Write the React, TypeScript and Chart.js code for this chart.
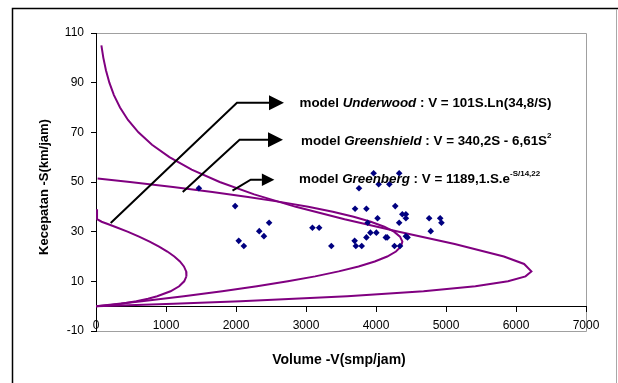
import { useEffect, useRef } from "react";
import { Chart, registerables } from "chart.js";

Chart.register(...registerables);

const FONT = "'Liberation Sans', Arial, sans-serif";

// Axis ticks
const xTicks = [0, 1000, 2000, 3000, 4000, 5000, 6000, 7000];
const yTicks = [-10, 10, 30, 50, 70, 90, 110];

// Field observations: volume (smp/jam) and speed (km/jam)
const observedVolume = [
  1470, 1988, 2039, 2112, 2332, 2399, 2473, 3092, 3188, 3362,
  3695, 3712, 3701, 3757, 3796, 3863, 3863, 3881, 3920, 3966,
  4005, 4022, 4038, 4140, 4160, 4191, 4264, 4275, 4331, 4331,
  4343, 4376, 4427, 4427, 4427, 4450, 4759, 4782, 4917, 4935,
];
const observedSpeed = [
  47.5, 40.3, 26.3, 24.2, 30.2, 28.2, 33.6, 31.6, 31.6, 24.2,
  26.3, 24.2, 39.2, 47.5, 24.2, 39.2, 27.7, 33.6, 29.6, 53.5,
  29.6, 35.4, 49.1, 27.7, 27.7, 49.1, 24.2, 40.3, 53.5, 33.6,
  24.2, 37, 37, 35.4, 28.2, 27.7, 35.4, 30.2, 35.4, 33.6,
];

// Greenberg model curve
const greenbergSpeed = [
  105, 100, 95, 90, 85, 80, 75, 70, 65, 60, 55, 50, 45, 40, 35,
  30, 25, 20, 17, 14, 12, 10, 8, 6, 4, 2, 1, 0.5, 0,
];
const greenbergVolume = [
  77, 105, 142, 191, 256, 343, 457, 606, 800, 1049, 1367, 1767, 2260, 2855, 3551,
  4326, 5124, 5827, 6116, 6220, 6136, 5886, 5420, 4679, 3590, 2066, 1108, 574, 0,
];

// Greenshield model curve
const greenshieldSpeed = [
  51.4, 50, 48, 46, 44, 42, 40, 38, 36, 34, 32, 30, 28, 26,
  24, 22, 20, 18, 16, 14, 12, 10, 8, 6, 4, 2, 0,
];
const greenshieldVolume = [
  23, 485, 1100, 1662, 2172, 2628, 3032, 3383, 3681, 3926, 4118, 4257, 4343, 4377,
  4357, 4285, 4160, 3982, 3751, 3467, 3131, 2741, 2299, 1803, 1255, 654, 0,
];

// Underwood model curve
const underwoodSpeed = [
  39, 35, 34, 33, 32, 30, 28, 26, 24, 22, 20, 18, 16, 14, 12.8,
  12, 10, 8, 6, 4, 3, 2, 1, 0.5, 0,
];
const underwoodVolume = [
  15, 15, 80, 177, 271, 450, 615, 766, 901, 1019, 1119, 1199, 1256, 1288, 1293,
  1290, 1260, 1188, 1065, 874, 743, 577, 359, 214, 0,
];

type Part = { text: string; italic?: boolean; sup?: boolean };

const modelNotes: { parts: Part[]; at: [number, number]; arrow: [number, number][]; head: number }[] = [
  {
    parts: [
      { text: "model " },
      { text: "Underwood", italic: true },
      { text: " : V = 101S.Ln(34,8/S)" },
    ],
    at: [2907, 81.6],
    arrow: [[210, 33.5], [2014, 81.9], [2471, 81.9]],
    head: 15,
  },
  {
    parts: [
      { text: "model " },
      { text: "Greenshield", italic: true },
      { text: " : V = 340,2S - 6,61S" },
      { text: "2", sup: true },
    ],
    at: [2929, 66.5],
    arrow: [[1239, 46.0], [2051, 67], [2457, 67]],
    head: 15,
  },
  {
    parts: [
      { text: "model " },
      { text: "Greenberg", italic: true },
      { text: " : V = 1189,1.S.e" },
      { text: "-S/14,22", sup: true },
    ],
    at: [2900, 51.2],
    arrow: [[1950, 46.5], [2210, 50.9], [2370, 50.9]],
    head: 12.5,
  },
];

const toPoints = (xs: number[], ys: number[]) => xs.map((x, i) => ({ x, y: ys[i] }));

const framePlugin = {
  id: "frameAndNotes",
  beforeDraw(chart: any) {
    const { ctx, width, height, chartArea: a } = chart;
    ctx.save();
    ctx.fillStyle = "#ffffff";
    ctx.fillRect(0, 0, width, height);
    // outer frame
    ctx.strokeStyle = "#000000";
    ctx.lineWidth = 1.5;
    ctx.beginPath();
    ctx.moveTo(12.5, height);
    ctx.lineTo(12.5, 8.5);
    ctx.lineTo(width, 8.5);
    ctx.stroke();
    ctx.strokeStyle = "#a8a8a8";
    ctx.lineWidth = 1;
    ctx.beginPath();
    ctx.moveTo(616.5, 9);
    ctx.lineTo(616.5, height);
    ctx.stroke();
    // plot area outline
    ctx.strokeStyle = "#a0a0a0";
    ctx.beginPath();
    ctx.moveTo(a.left, a.top + 0.5);
    ctx.lineTo(a.right + 0.5, a.top + 0.5);
    ctx.lineTo(a.right + 0.5, a.bottom + 0.5);
    ctx.lineTo(a.left, a.bottom + 0.5);
    ctx.stroke();
    ctx.restore();
  },
  afterDraw(chart: any) {
    const { ctx, chartArea: a } = chart;
    const xs = chart.scales.x;
    const ys = chart.scales.y;
    ctx.save();
    ctx.fillStyle = "#000000";
    ctx.textBaseline = "middle";

    // axis titles
    ctx.textAlign = "center";
    ctx.font = `bold 14px ${FONT}`;
    ctx.fillText("Volume -V(smp/jam)", (a.left + a.right) / 2 - 2, 360);
    ctx.font = `bold 13px ${FONT}`;
    ctx.save();
    ctx.translate(44, 187);
    ctx.rotate(-Math.PI / 2);
    ctx.fillText("Kecepatan -S(km/jam)", 0, 0);
    ctx.restore();

    // model notes with arrows
    ctx.textAlign = "left";
    for (const note of modelNotes) {
      const pts = note.arrow.map(([v, s]) => [xs.getPixelForValue(v), ys.getPixelForValue(s)]);
      ctx.strokeStyle = "#000000";
      ctx.lineWidth = 2;
      ctx.lineJoin = "miter";
      ctx.beginPath();
      pts.forEach(([px, py], i) => (i ? ctx.lineTo(px, py) : ctx.moveTo(px, py)));
      ctx.stroke();
      const [ex, ey] = pts[pts.length - 1];
      const h = note.head;
      ctx.beginPath();
      ctx.moveTo(ex, ey - h / 2);
      ctx.lineTo(ex + h, ey);
      ctx.lineTo(ex, ey + h / 2);
      ctx.closePath();
      ctx.fill();

      let cx = xs.getPixelForValue(note.at[0]);
      const cy = ys.getPixelForValue(note.at[1]);
      for (const p of note.parts) {
        const size = p.sup ? 8 : 13.4;
        ctx.font = `${p.italic ? "italic " : ""}bold ${size}px ${FONT}`;
        ctx.fillText(p.text, cx, p.sup ? cy - 5 : cy);
        cx += ctx.measureText(p.text).width;
      }
    }
    ctx.restore();
  },
};

export default function App() {
  const canvasRef = useRef<HTMLCanvasElement | null>(null);

  useEffect(() => {
    const canvas = canvasRef.current;
    if (!canvas) return;
    const curve = (label: string, xs: number[], ys: number[]) => ({
      label,
      data: toPoints(xs, ys),
      showLine: true,
      borderColor: "#800080",
      borderWidth: 2,
      pointRadius: 0,
      fill: false,
      tension: 0,
    });
    const plainTick = (value: number | string) => String(value);
    const chart = new Chart(canvas, {
      type: "scatter",
      data: {
        datasets: [
          {
            label: "Observasi",
            data: toPoints(observedVolume, observedSpeed),
            pointStyle: "rectRot",
            pointRadius: 3.3,
            backgroundColor: "#000080",
            borderColor: "#000080",
            borderWidth: 0,
            showLine: false,
          },
          curve("Underwood", underwoodVolume, underwoodSpeed),
          curve("Greenshield", greenshieldVolume, greenshieldSpeed),
          curve("Greenberg", greenbergVolume, greenbergSpeed),
        ],
      },
      options: {
        responsive: false,
        animation: false,
        devicePixelRatio: 1,
        layout: { padding: { left: 0, top: 33, right: 32, bottom: 52 } },
        plugins: {
          legend: { display: false },
          tooltip: { enabled: false },
          title: { display: false },
        },
        scales: {
          x: {
            type: "linear",
            position: { y: 0 },
            min: 0,
            max: 7000,
            afterBuildTicks: (scale: any) => {
              scale.ticks = xTicks.map((value) => ({ value }));
            },
            ticks: {
              font: { family: FONT, size: 12 },
              color: "#000000",
              padding: 7,
              maxRotation: 0,
              callback: plainTick,
            },
            grid: { drawOnChartArea: false, drawTicks: true, tickLength: 5, tickColor: "#000000" },
            border: { color: "#000000", width: 1 },
          },
          y: {
            type: "linear",
            position: "left",
            min: -10,
            max: 110,
            afterBuildTicks: (scale: any) => {
              scale.ticks = yTicks.map((value) => ({ value }));
            },
            afterFit: (scale: any) => {
              scale.width = 96;
            },
            ticks: {
              font: { family: FONT, size: 12 },
              color: "#000000",
              padding: 7,
              callback: plainTick,
            },
            grid: { drawOnChartArea: false, drawTicks: true, tickLength: 5, tickColor: "#000000" },
            border: { color: "#000000", width: 1 },
          },
        },
      },
      plugins: [framePlugin],
    });
    return () => chart.destroy();
  }, []);

  return (
    <div style={{ position: "absolute", left: 0, top: 0, width: 618, height: 383 }}>
      <canvas ref={canvasRef} width={618} height={383} style={{ width: 618, height: 383, display: "block" }} />
    </div>
  );
}
